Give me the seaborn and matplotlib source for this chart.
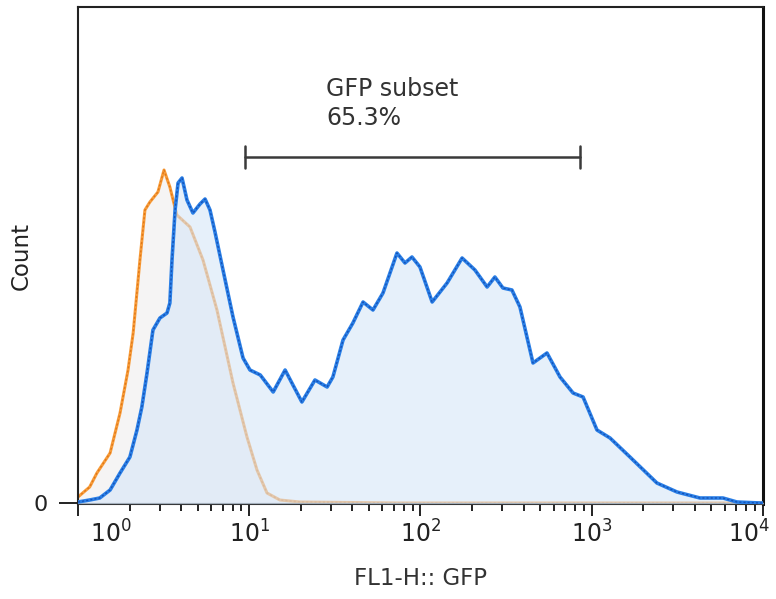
import matplotlib
matplotlib.use("Agg")
import matplotlib.pyplot as plt
import matplotlib.transforms as mtransforms
from matplotlib.ticker import LogLocator, NullFormatter, FixedLocator
import pandas as pd
import seaborn as sns

# GFP sample (blue histogram): FL1-H intensity vs count
gfp_fl1 = [1.00, 1.17, 1.34, 1.54, 1.76, 2.01, 2.21, 2.36, 2.53, 2.74, 3.01, 3.31,
           3.44, 3.54, 3.69, 3.84, 4.05, 4.33, 4.69, 5.16, 5.52, 5.90, 6.31, 7.03,
           8.04, 9.20, 10.1, 11.6, 13.8, 16.2, 18.0, 20.3, 24.2, 28.5, 30.8, 35.3,
           40.3, 46.2, 52.8, 60.4, 72.9, 81.2, 89.2, 99.3, 117, 143, 175, 208, 245,
           272, 303, 342, 381, 454, 548, 653, 778, 890, 1073, 1279, 1672, 2403,
           3148, 4287, 5838, 7047, 9600, 10000]
gfp_count = [1, 3, 5, 13, 30, 46, 73, 96, 130, 173, 185, 190,
             200, 243, 293, 320, 325, 303, 290, 299, 304, 293, 271, 233,
             186, 145, 133, 128, 111, 133, 118, 101, 123, 116, 126, 163,
             180, 201, 193, 210, 250, 240, 246, 236, 201, 220, 245, 233, 216,
             226, 215, 213, 196, 140, 150, 126, 110, 106, 73, 65, 46, 20,
             11, 5, 5, 1, 0, 0]

# unstained control (orange histogram)
ctrl_fl1 = [1.00, 1.17, 1.29, 1.54, 1.76, 1.96, 2.10, 2.30, 2.46, 2.63, 2.93, 3.18,
            3.44, 3.78, 4.51, 5.37, 6.48, 8.04, 9.70, 11.1, 12.7, 15.1, 19.8, 75.9,
            10000]
ctrl_count = [6, 16, 30, 50, 90, 133, 170, 243, 293, 301, 311, 333,
              316, 288, 276, 243, 193, 120, 66, 33, 10, 3, 1, 0,
              0]

gate_low, gate_high = 9.4, 850
gate_level = 346
gate_text = "GFP subset\n65.3%"

gfp = pd.DataFrame({"FL1-H": gfp_fl1, "Count": gfp_count})
ctrl = pd.DataFrame({"FL1-H": ctrl_fl1, "Count": ctrl_count})

sns.set_theme(style="white")
plt.rcParams["font.family"] = ["DejaVu Sans"]
plt.rcParams["mathtext.default"] = "regular"

fig = plt.figure(figsize=(7.76, 5.99), dpi=100)
ax = fig.add_axes([0.1005, 0.1586, 0.8827, 0.8297])

# control histogram
ax.fill_between(ctrl["FL1-H"], ctrl["Count"], color="#f5f4f4", zorder=1)
sns.lineplot(data=ctrl, x="FL1-H", y="Count", color="#f89c3a", lw=2.2, ax=ax, zorder=2)
sns.lineplot(data=ctrl, x="FL1-H", y="Count", color="#e07818", lw=1.0,
             linestyle=(0, (1.5, 1.5)), ax=ax, zorder=2)

# GFP histogram, fill laid over control line
ax.fill_between(gfp["FL1-H"], gfp["Count"], color="#d6e6f8", alpha=0.6, zorder=3)
sns.lineplot(data=gfp, x="FL1-H", y="Count", color="#2a7fe6", lw=2.6, ax=ax, zorder=4)
sns.lineplot(data=gfp, x="FL1-H", y="Count", color="#1552b8", lw=1.0,
             linestyle=(0, (1.5, 1.5)), ax=ax, zorder=4)

# gate bracket
ax.plot([gate_low, gate_high], [gate_level, gate_level], color="#3a3a3a", lw=1.8, zorder=5)
for g in (gate_low, gate_high):
    ax.plot([g, g], [gate_level - 11, gate_level + 11], color="#3a3a3a", lw=1.8, zorder=5)
ax.text(28.1, 426, gate_text, fontsize=17, color="#333333", va="top", ha="left",
        linespacing=1.25)

ax.set_xscale("log")
ax.set_xlim(1, 10000)
ax.set_ylim(-1, 496)
ax.xaxis.set_major_locator(FixedLocator([1, 10, 100, 1000, 10000]))
ax.set_xticklabels([r"$10^{0}$", r"$10^{1}$", r"$10^{2}$", r"$10^{3}$", r"$10^{4}$"])
ax.xaxis.set_minor_locator(LogLocator(base=10, subs=range(2, 10)))
ax.xaxis.set_minor_formatter(NullFormatter())
ax.set_yticks([0])
ax.set_yticklabels(["0"])

ax.tick_params(axis="x", which="major", direction="out", length=8.5, width=1.4,
               labelsize=17, pad=3, colors="#222222", bottom=True)
ax.tick_params(axis="x", which="minor", direction="out", length=5, width=1.4,
               bottom=True, colors="#222222")
ax.tick_params(axis="y", direction="out", length=14, width=1.4, labelsize=16,
               pad=8, colors="#222222", left=True)

labels = ax.get_xticklabels()
labels[0].set_horizontalalignment("left")
labels[0].set_transform(labels[0].get_transform() +
                        mtransforms.ScaledTranslation(9 / 72, 0, fig.dpi_scale_trans))
labels[-1].set_horizontalalignment("right")
labels[-1].set_transform(labels[-1].get_transform() +
                         mtransforms.ScaledTranslation(5 / 72, 0, fig.dpi_scale_trans))

ax.set_xlabel("FL1-H:: GFP", fontsize=16.5, color="#333333", labelpad=14)
ax.set_ylabel("Count", fontsize=16.5, color="#222222", labelpad=0)

for side in ["left", "top", "bottom"]:
    ax.spines[side].set_color("#222222")
    ax.spines[side].set_linewidth(1.5)
ax.spines["right"].set_color("#111111")
ax.spines["right"].set_linewidth(2.2)
ax.grid(False)

fig.savefig("out.png", dpi=100)
